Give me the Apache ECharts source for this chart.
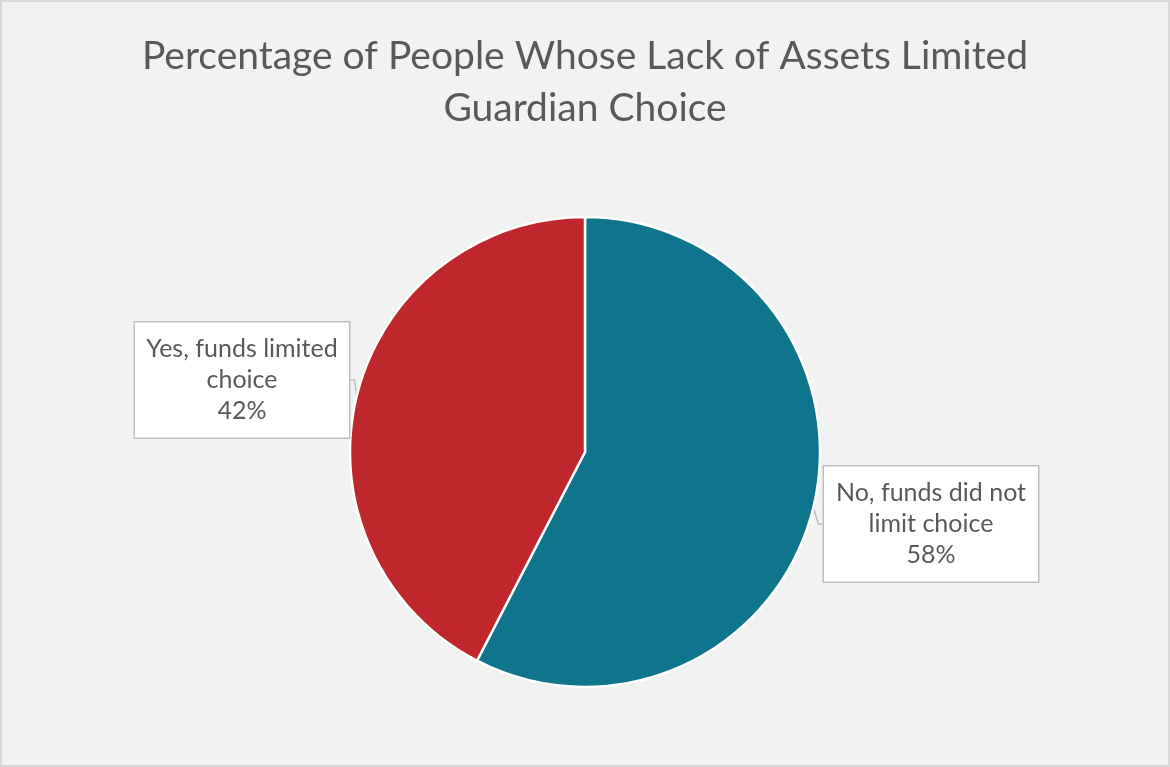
<!DOCTYPE html>
<html>
<head>
<meta charset="utf-8">
<script src="https://cdn.jsdelivr.net/npm/echarts@6/dist/echarts.min.js"></script>
<style>
  html, body { margin: 0; padding: 0; background: #ffffff; }
  #frame { position: absolute; left: 0; top: 0; width: 1166px; height: 763px; border: 2px solid #d9d9d9; background: #f2f2f2; }
  #chart { width: 1166px; height: 763px; }
</style>
</head>
<body>
<div id="frame"><div id="chart"></div></div>
<script>
const titleText = 'Percentage of People Whose Lack of Assets Limited\nGuardian Choice';
const categories = ['No, funds did not\nlimit choice', 'Yes, funds limited\nchoice'];
const values = [57.6, 42.4];
const colors = ['#0e758c', '#c0272d'];

const chart = echarts.init(document.getElementById('chart'));
const FONT = 'Lato, "Open Sans", sans-serif';
chart.setOption({
  backgroundColor: '#f2f2f2',
  title: {
    text: titleText,
    left: 'center',
    top: 23,
    textStyle: { fontFamily: FONT, fontSize: 39, fontWeight: 'normal', color: '#595959', lineHeight: 52 }
  },
  series: [{
    type: 'pie',
    center: [583, 450],
    radius: 235,
    startAngle: 90,
    clockwise: true,
    data: categories.map((c, i) => ({ name: c, value: values[i], itemStyle: { color: colors[i] } })),
    itemStyle: { borderColor: '#ffffff', borderWidth: 2.5 },
    label: {
      show: true,
      position: 'outside',
      formatter: p => (p.name + '\n' + Math.round(p.percent) + '%')
        .split('\n').map(s => '{c|' + s + '}').join('\n'),
      fontFamily: FONT,
      fontSize: 25,
      lineHeight: 31,
      color: '#595959',
      backgroundColor: '#ffffff',
      borderColor: '#bfbfbf',
      borderWidth: 1.5,
      padding: [11, 8, 11, 8],
      width: 198,
      rich: {
        c: { align: 'center', fontFamily: FONT, fontSize: 25, lineHeight: 31, color: '#595959' }
      }
    },
    labelLine: { show: true, length: 8, length2: 4, lineStyle: { color: '#bfbfbf', width: 1.5 } },
    labelLayout: function (params) {
      if (params.dataIndex === 0) {
        return { x: 822, y: 522, align: 'left', verticalAlign: 'middle' };
      }
      return { x: 347, y: 378, align: 'right', verticalAlign: 'middle' };
    },
    emphasis: { disabled: true },
    animation: false
  }]
});
</script>
</body>
</html>
